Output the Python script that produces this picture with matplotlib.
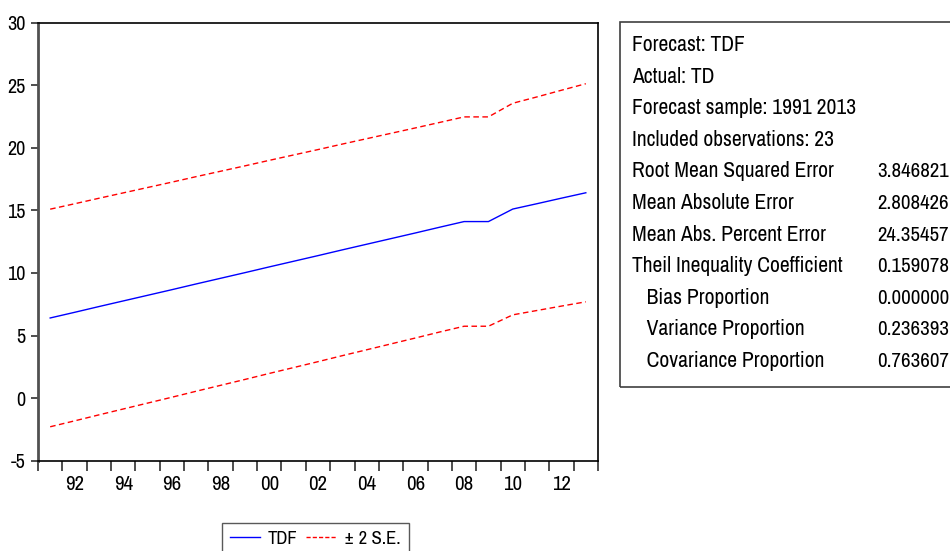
import matplotlib
matplotlib.use("Agg")
import matplotlib.pyplot as plt
from matplotlib import font_manager
from matplotlib.lines import Line2D
from matplotlib.patches import Rectangle

# Forecast data (TDF, +/- 2 S.E. band), annual 1991-2013
years = list(range(1991, 2014))
tdf = [6.40, 6.85, 7.31, 7.76, 8.21, 8.66, 9.12, 9.57, 10.02, 10.48, 10.93, 11.38,
       11.84, 12.29, 12.74, 13.19, 13.65, 14.10, 14.10, 15.10, 15.53, 15.97, 16.40]
upper = [15.09, 15.52, 15.96, 16.39, 16.82, 17.25, 17.69, 18.12, 18.55, 18.99, 19.42, 19.85,
         20.29, 20.72, 21.15, 21.58, 22.02, 22.46, 22.46, 23.55, 24.06, 24.59, 25.11]
lower = [-2.29, -1.82, -1.34, -0.87, -0.40, 0.07, 0.55, 1.02, 1.49, 1.97, 2.44, 2.91,
         3.39, 3.86, 4.33, 4.80, 5.28, 5.74, 5.74, 6.65, 7.00, 7.35, 7.69]

label_years = [1992, 1994, 1996, 1998, 2000, 2002, 2004, 2006, 2008, 2010, 2012]
y_ticks = [-5, 0, 5, 10, 15, 20, 25, 30]

stat_labels = ["Root Mean Squared Error", "Mean Absolute Error", "Mean Abs. Percent Error",
               "Theil Inequality Coefficient", "   Bias Proportion", "   Variance Proportion",
               "   Covariance Proportion"]
stat_values = ["3.846821", "2.808426", "24.35457", "0.159078", "0.000000", "0.236393", "0.763607"]
header_lines = ["Forecast: TDF", "Actual: TD", "Forecast sample: 1991 2013", "Included observations: 23"]

# EViews output uses an Arial Narrow look; Archivo Narrow is the closest installed
names = {f.name for f in font_manager.fontManager.ttflist}
FONT = "Archivo Narrow" if "Archivo Narrow" in names else "Liberation Sans"
plt.rcParams["font.family"] = [FONT, "DejaVu Sans"]

W, H = 950, 551
fig = plt.figure(figsize=(W / 100, H / 100), dpi=100)
ax = fig.add_axes([38 / W, 1 - 460.7 / H, (598 - 38) / W, (460.7 - 22.5) / H])

# observations are centred inside each year
xs = [y + 0.5 for y in years]
ax.plot(xs, tdf, color="#0000ff", lw=1.0)
ax.plot(xs, upper, color="#ff0000", lw=1.0, ls=(0, (4, 2.5)))
ax.plot(xs, lower, color="#ff0000", lw=1.0, ls=(0, (4, 2.5)))

ax.set_xlim(1991, 2014)
ax.set_ylim(-5, 30)
ax.set_yticks(y_ticks)
ax.set_yticklabels([str(v) for v in y_ticks], fontsize=14.5)
ax.set_xticks([y + 0.5 for y in label_years])
ax.set_xticklabels([str(y)[2:] for y in label_years], fontsize=15)
ax.set_xticks(list(range(1991, 2015)), minor=True)
ax.tick_params(axis="x", which="major", length=0, pad=10)
ax.tick_params(axis="x", which="minor", length=7, width=1.2, color="#303030", direction="out")
ax.tick_params(axis="y", length=5, width=1.2, color="#303030", direction="out", pad=4)

for side in ["top", "right", "bottom"]:
    ax.spines[side].set_linewidth(1.2)
    ax.spines[side].set_color("black")
ax.spines["left"].set_linewidth(2.0)
ax.spines["left"].set_color("#505050")

# legend below the plot
handles = [Line2D([], [], color="#0000ff", lw=1.0),
           Line2D([], [], color="#ff0000", lw=1.0, ls=(0, (3, 1.5)))]
leg = fig.legend(handles, ["TDF", "± 2 S.E."], loc="upper left",
                 bbox_to_anchor=(222 / W, 1 - 523 / H), ncol=2, fontsize=13.5,
                 frameon=True, fancybox=False, handlelength=1.6, handletextpad=0.45,
                 columnspacing=0.45, borderpad=0.4, borderaxespad=0)
leg.get_frame().set_edgecolor("#303030")
leg.get_frame().set_linewidth(1.0)

# statistics box
fig.patches.append(Rectangle((620 / W, 1 - 387 / H), (W + 10 - 620) / W, (387 - 22) / H,
                             transform=fig.transFigure, fill=False,
                             edgecolor="#404040", lw=1.2))
lines = header_lines + stat_labels
for i, txt in enumerate(lines):
    yb = 1 - (51 + 31.6 * i) / H
    fig.text(632 / W, yb, txt, fontsize=15.5, va="baseline", ha="left")
for i, val in enumerate(stat_values):
    yb = 1 - (51 + 31.6 * (i + len(header_lines))) / H
    fig.text(877 / W, yb, val, fontsize=15, va="baseline", ha="left")

fig.savefig("out.png", dpi=100)
